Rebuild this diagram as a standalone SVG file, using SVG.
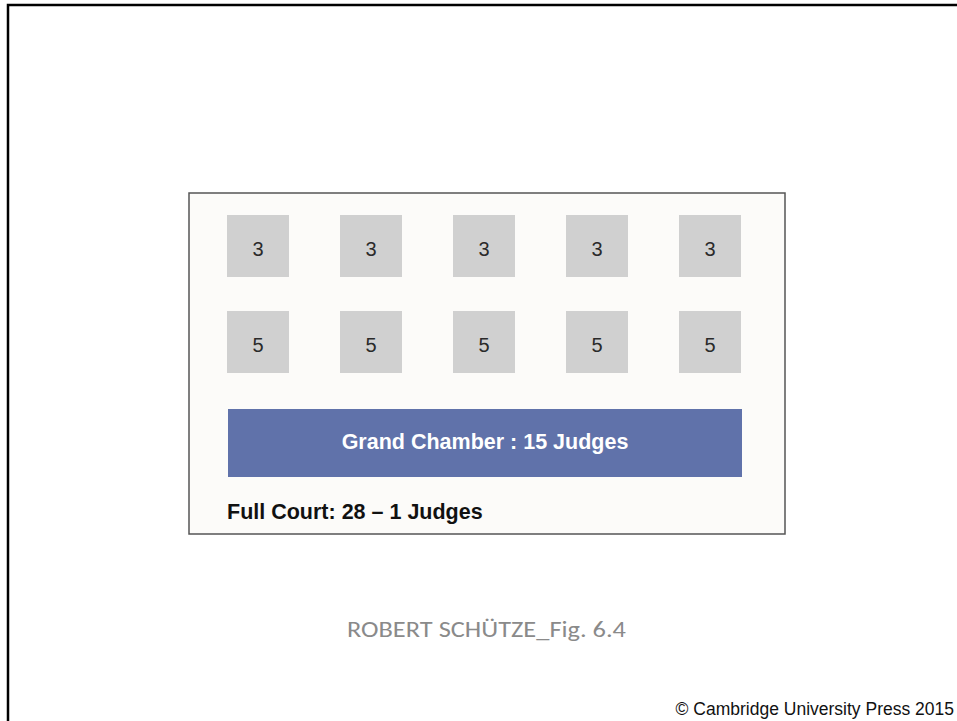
<svg xmlns="http://www.w3.org/2000/svg" width="957" height="721" viewBox="0 0 957 721">
  <style>
    .sq { fill: #d0d0d0; }
    .num { font-family: "Liberation Sans", Arial, sans-serif; font-size: 20px; fill: #2a2a2a; text-anchor: middle; }
    .bold { font-family: "Liberation Sans", Arial, sans-serif; font-weight: bold; font-size: 21.5px; }
  </style>
  <rect x="0" y="0" width="957" height="721" fill="#ffffff"/>
  <path d="M8,721 V5 H957" fill="none" stroke="#000000" stroke-width="2.5"/>
  <g id="court">
    <rect x="189" y="193" width="596" height="341" fill="#fcfbf9" stroke="#555555" stroke-width="1.5"/>
  </g>
  <g id="chambers3">
    <g id="c3-1"><rect class="sq" x="227" y="215" width="62" height="62"/><text class="num" x="258" y="256">3</text></g>
    <g id="c3-2"><rect class="sq" x="340" y="215" width="62" height="62"/><text class="num" x="371" y="256">3</text></g>
    <g id="c3-3"><rect class="sq" x="453" y="215" width="62" height="62"/><text class="num" x="484" y="256">3</text></g>
    <g id="c3-4"><rect class="sq" x="566" y="215" width="62" height="62"/><text class="num" x="597" y="256">3</text></g>
    <g id="c3-5"><rect class="sq" x="679" y="215" width="62" height="62"/><text class="num" x="710" y="256">3</text></g>
  </g>
  <g id="chambers5">
    <g id="c5-1"><rect class="sq" x="227" y="311" width="62" height="62"/><text class="num" x="258" y="352">5</text></g>
    <g id="c5-2"><rect class="sq" x="340" y="311" width="62" height="62"/><text class="num" x="371" y="352">5</text></g>
    <g id="c5-3"><rect class="sq" x="453" y="311" width="62" height="62"/><text class="num" x="484" y="352">5</text></g>
    <g id="c5-4"><rect class="sq" x="566" y="311" width="62" height="62"/><text class="num" x="597" y="352">5</text></g>
    <g id="c5-5"><rect class="sq" x="679" y="311" width="62" height="62"/><text class="num" x="710" y="352">5</text></g>
  </g>
  <g id="grand-chamber">
    <rect x="228" y="409" width="514" height="68" fill="#6072aa"/>
    <text class="bold" x="485" y="449" fill="#ffffff" text-anchor="middle">Grand Chamber : 15 Judges</text>
  </g>
  <g id="full-court-label">
    <text class="bold" x="227" y="519" fill="#111111">Full Court: 28 – 1 Judges</text>
  </g>
  <g id="connectors"></g>
  <text x="347" y="637" font-family="Carlito, 'Open Sans', 'Liberation Sans', sans-serif" font-size="22" fill="#8a8a8a" textLength="279" lengthAdjust="spacingAndGlyphs">ROBERT SCHÜTZE_Fig. 6.4</text>
  <text x="954" y="715" font-family="'Liberation Sans', Arial, sans-serif" font-size="17.5" fill="#111111" text-anchor="end">© Cambridge University Press 2015</text>
</svg>
